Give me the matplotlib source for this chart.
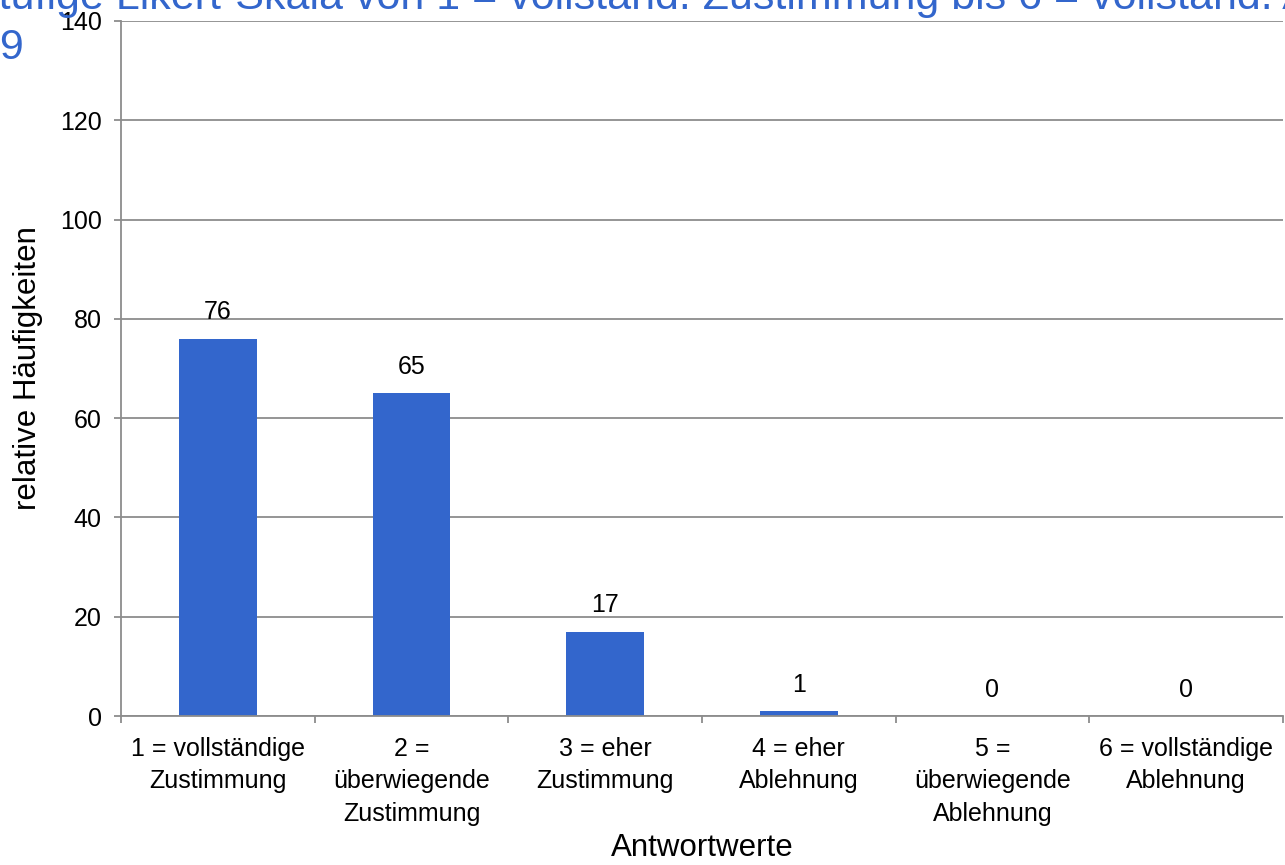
import numpy as np
import matplotlib
matplotlib.use("Agg")
import matplotlib.pyplot as plt

plt.rcParams['font.family'] = ['Liberation Sans', 'DejaVu Sans']

categories = ["1 = vollständige\nZustimmung", "2 =\nüberwiegende\nZustimmung",
              "3 = eher\nZustimmung", "4 = eher\nAblehnung",
              "5 =\nüberwiegende\nAblehnung", "6 = vollständige\nAblehnung"]
values = [76, 65, 17, 1, 0, 0]
yticks = [0, 20, 40, 60, 80, 100, 120, 140]
title_line1 = "6-stufige Likert-Skala von 1 = vollständ. Zustimmung bis 6 = vollständ. Ablehnung"
title_line2 = "n = 159"

grid_col = '#8c8c8c'
bar_col = '#3366cc'

fig = plt.figure(figsize=(12.85, 8.65), dpi=100)
ax = fig.add_axes([121/1285, 1 - 716/865, (1283 - 121)/1285, (716 - 21)/865])

x = np.arange(len(values))
bars = ax.bar(x, values, width=0.4, color=bar_col, zorder=3)

for xi, v in zip(x, values):
    ax.annotate(str(v), (xi, v), xytext=(0, 19), textcoords='offset points',
                ha='center', va='center', fontsize=18, color='black')

ax.set_xlim(-0.5, len(values) - 0.5)
ax.set_ylim(0, 140)
ax.set_yticks(yticks)
ax.set_xticks(x)
ax.set_xticklabels(categories, fontsize=18, linespacing=1.45)
ax.set_xticks(np.arange(len(values) + 1) - 0.5, minor=True)
ax.tick_params(axis='x', which='major', length=0, pad=15)
ax.tick_params(axis='x', which='minor', length=5, color=grid_col, width=1.3)
ax.tick_params(axis='y', length=5, color=grid_col, width=1.3, labelsize=18, pad=9)

ax.grid(axis='y', color=grid_col, linewidth=1.3, zorder=0)
for s in ['top', 'right']:
    ax.spines[s].set_visible(False)
for s in ['left', 'bottom']:
    ax.spines[s].set_color(grid_col)
    ax.spines[s].set_linewidth(1.3)
    ax.spines[s].set_zorder(4)

ax.set_xlabel("Antwortwerte", fontsize=22.5, labelpad=5)
ax.set_ylabel("relative Häufigkeiten", fontsize=22.5, labelpad=12)

fig.text(-61/1285, 1 - 9/865, title_line1, fontsize=31, color=bar_col,
         ha='left', va='baseline')
fig.text(-121/1285, 1 - 59/865, title_line2, fontsize=31, color=bar_col,
         ha='left', va='baseline')

fig.savefig("out.png", dpi=100)
